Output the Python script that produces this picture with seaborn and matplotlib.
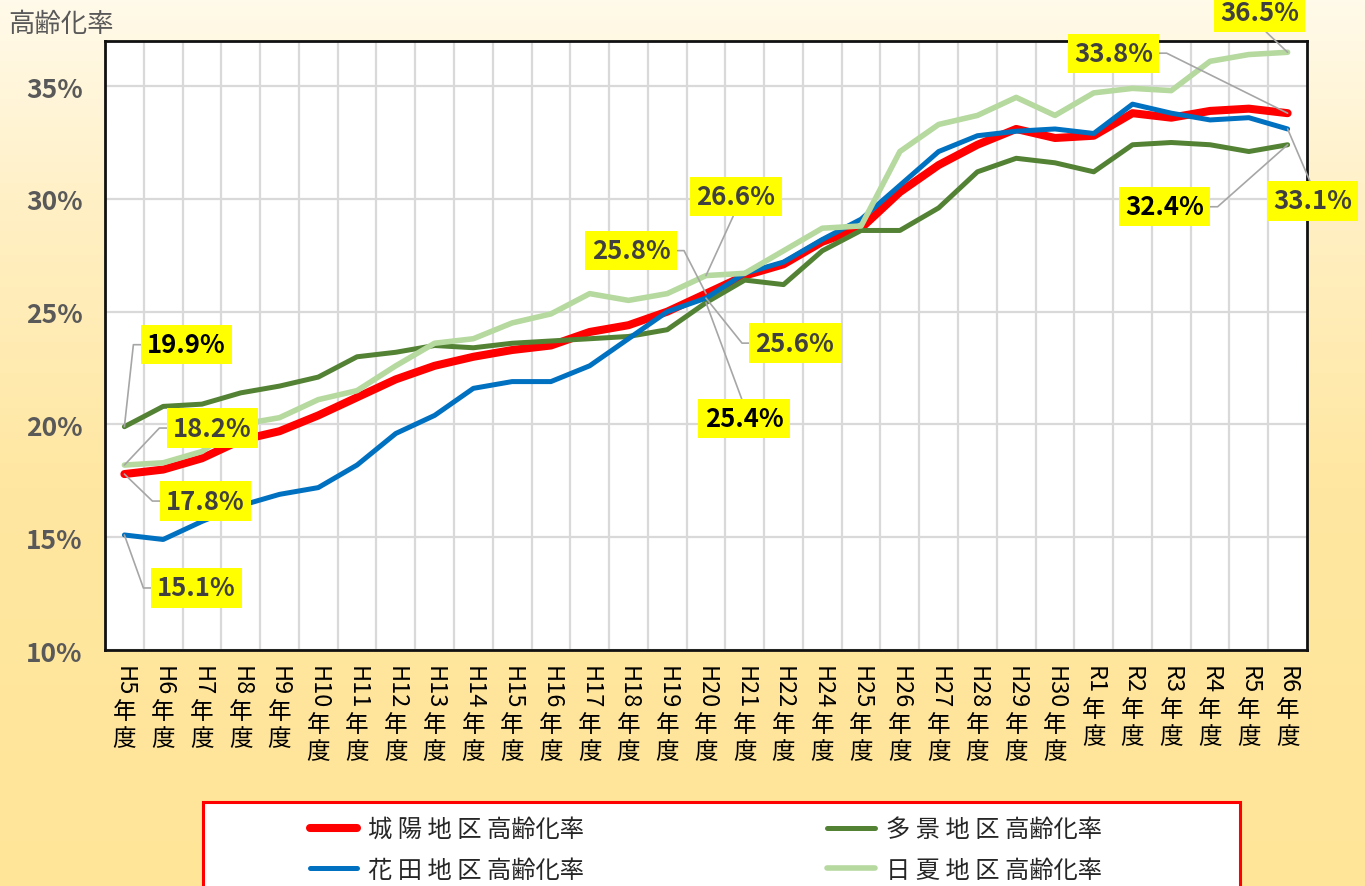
import math

import numpy as np
import pandas as pd
import seaborn as sns
import matplotlib
matplotlib.use('Agg')
import matplotlib.pyplot as plt
import matplotlib.transforms as mtransforms
from matplotlib.patches import Rectangle
from matplotlib.colors import LinearSegmentedColormap


# *DATA*
years = ['H5年度', 'H6年度', 'H7年度', 'H8年度', 'H9年度', 'H10年度', 'H11年度', 'H12年度',
         'H13年度', 'H14年度', 'H15年度', 'H16年度', 'H17年度', 'H18年度', 'H19年度', 'H20年度',
         'H21年度', 'H22年度', 'H24年度', 'H25年度', 'H26年度', 'H27年度', 'H28年度', 'H29年度',
         'H30年度', 'R1年度', 'R2年度', 'R3年度', 'R4年度', 'R5年度', 'R6年度']

joyo = [17.8, 18.0, 18.5, 19.3, 19.7, 20.4, 21.2, 22.0, 22.6, 23.0,
        23.3, 23.5, 24.1, 24.4, 25.0, 25.8, 26.6, 27.1, 28.1, 28.7,
        30.3, 31.5, 32.4, 33.1, 32.7, 32.8, 33.8, 33.6, 33.9, 34.0, 33.8]
takei = [19.9, 20.8, 20.9, 21.4, 21.7, 22.1, 23.0, 23.2, 23.5, 23.4,
         23.6, 23.7, 23.8, 23.9, 24.2, 25.4, 26.4, 26.2, 27.7, 28.6,
         28.6, 29.6, 31.2, 31.8, 31.6, 31.2, 32.4, 32.5, 32.4, 32.1, 32.4]
hanada = [15.1, 14.9, 15.7, 16.4, 16.9, 17.2, 18.2, 19.6, 20.4, 21.6,
          21.9, 21.9, 22.6, 23.8, 25.0, 25.6, 26.7, 27.2, 28.2, 29.1,
          30.6, 32.1, 32.8, 33.0, 33.1, 32.9, 34.2, 33.8, 33.5, 33.6, 33.1]
hinatsu = [18.2, 18.3, 18.8, 20.0, 20.3, 21.1, 21.5, 22.6, 23.6, 23.8,
           24.5, 24.9, 25.8, 25.5, 25.8, 26.6, 26.7, 27.7, 28.7, 28.8,
           32.1, 33.3, 33.7, 34.5, 33.7, 34.7, 34.9, 34.8, 36.1, 36.4, 36.5]

area_names = ['城 陽 地 区 高齢化率', '多 景 地 区 高齢化率', '花 田 地 区 高齢化率', '日 夏 地 区 高齢化率']
area_values = [joyo, takei, hanada, hinatsu]
area_colors = ['#FF0000', '#548235', '#0070C0', '#B5D99E']
area_widths = [5.8, 3.6, 3.6, 4.0]

y_ticks = [10, 15, 20, 25, 30, 35]

# data labels: (series index, year index, offset x px, offset y px, leader side)
label_specs = [
    (1, 0, 62, 82, 'left'),
    (3, 0, 88, 37, 'left'),
    (0, 0, 81, -27, 'left'),
    (2, 0, 72, -53, 'left'),
    (0, 15, -75, 43, 'right'),
    (3, 15, 30, 79, 'bottom'),
    (2, 15, 89, -45, 'left'),
    (1, 15, 38, -116, 'top'),
    (0, 30, -174, 60, 'right'),
    (3, 30, -28, 40, 'bottom'),
    (2, 30, 25, -72, 'top'),
    (1, 30, -123, -62, 'right'),
]
label_text_colors = ['#404040', '#000000', '#404040', '#404040']

sns.set_theme(style='white')
plt.rcParams['font.family'] = ['Noto Sans CJK JP', 'DejaVu Sans']
num_font = ['Liberation Sans Narrow', 'Noto Sans CJK JP', 'DejaVu Sans']

W, H = 1365, 887
fig = plt.figure(figsize=(W / 100, H / 100), dpi=100)

# gradient background
bg = fig.add_axes([0, 0, 1, 1], zorder=-10)
grad = np.linspace(0, 1, 256).reshape(-1, 1)
bg_cmap = LinearSegmentedColormap.from_list(
    'bg', [(0.0, '#FFE598'), (0.45, '#FFE7A1'), (0.75, '#FFEFC2'), (1.0, '#FFFAEA')])
bg.imshow(grad, aspect='auto', cmap=bg_cmap, origin='lower', extent=[0, 1, 0, 1])
bg.axis('off')

ax = fig.add_axes([105 / W, (H - 651) / H, 1202 / W, 609 / H])
ax.set_facecolor('white')

pos = np.arange(len(years))
lines = []
for name, vals, col, lw in zip(area_names, area_values, area_colors, area_widths):
    sns.lineplot(x=pos, y=vals, color=col, linewidth=lw, ax=ax, label=name,
                 solid_capstyle='round', solid_joinstyle='round', legend=False)
    lines.append(ax.lines[-1])

ax.set_xlim(-0.5, len(years) - 0.5)
ax.set_ylim(10, 37)
ax.set_yticks(y_ticks)
ax.set_yticklabels([f'{t}%' for t in y_ticks], family=num_font, fontsize=19,
                   fontweight='bold', color='#595959')
ax.set_xticks(pos)
ax.set_xticklabels([])
ax.set_xticks(np.arange(0.5, len(years) - 1, 1), minor=True)
ax.tick_params(axis='both', which='both', length=0)
ax.tick_params(axis='y', pad=16)
ax.set_axisbelow(True)
ax.yaxis.grid(True, color='#D9D9D9', linewidth=1.6)
ax.xaxis.grid(True, which='minor', color='#D9D9D9', linewidth=1.6)
ax.set_xlabel('')
ax.set_ylabel('')
for sp in ax.spines.values():
    sp.set_visible(True)
    sp.set_color('#111111')
    sp.set_linewidth(2)

fig.text(8 / W, 1 - 24 / H, '高齢化率', fontsize=19, color='#595959', va='center', ha='left')

# data labels with leader lines
half_w = 41
for si, xi, dx, dy, side in label_specs:
    v = area_values[si][xi]
    if side == 'left':
        relpos = (0, 0.5)
        cx = dx - half_w - 12
        cs = f'angle,angleA=0,angleB={math.degrees(math.atan2(dy, cx)):.2f},rad=0'
    elif side == 'right':
        relpos = (1, 0.5)
        cx = dx + half_w + 12
        cs = f'angle,angleA=0,angleB={math.degrees(math.atan2(dy, cx)):.2f},rad=0'
    elif side == 'top':
        relpos = (0.5, 1)
        cs = 'arc3'
    else:
        relpos = (0.5, 0)
        cs = 'arc3'
    ax.annotate(f'{v:.1f}%', xy=(xi, v), xytext=(dx, dy), textcoords='offset pixels',
                ha='center', va='center', fontsize=18.5, fontweight='bold',
                family=num_font, color=label_text_colors[si],
                bbox=dict(boxstyle='square,pad=0.24', fc='#FFFF00', ec='none'),
                arrowprops=dict(arrowstyle='-', color='#A6A6A6', lw=1.2, shrinkA=0, shrinkB=0,
                                relpos=relpos, connectionstyle=cs),
                annotation_clip=False, zorder=10)

# vertical (stacked) x tick labels
renderer = fig.canvas.get_renderer()
xtrans = mtransforms.blended_transform_factory(ax.transData, ax.transAxes)
xdisp = mtransforms.blended_transform_factory(ax.transData, mtransforms.IdentityTransform())
for i, lab in enumerate(years):
    head, tail = lab[:-2], lab[-2:]
    t1 = ax.text(i, 0, head, rotation=270, ha='center', va='top', fontsize=17, color='black',
                 transform=mtransforms.offset_copy(xtrans, fig=fig, y=-15, units='dots'),
                 clip_on=False)
    bb = t1.get_window_extent(renderer)
    ax.text(i, bb.y0 - 5, '\n'.join(tail), ha='center', va='top', fontsize=17, color='black',
            linespacing=1.2, transform=xdisp, clip_on=False)

# legend box and entries
fig.patches.append(Rectangle((203 / W, -0.02), 1037 / W, (H - 803) / H + 0.02,
                             transform=fig.transFigure, fc='white', ec='#FF0000', lw=2.2, zorder=1))
order = [0, 2, 1, 3]
fig.legend([lines[k] for k in order], [area_names[k] for k in order],
           loc='upper left', bbox_to_anchor=(293 / W, 1 - 800 / H), ncol=2,
           frameon=False, fontsize=17.5, handlelength=1.95, handletextpad=0.45,
           columnspacing=10.0, labelspacing=0.6, borderpad=0.2)

fig.savefig('out.png', dpi=100)
